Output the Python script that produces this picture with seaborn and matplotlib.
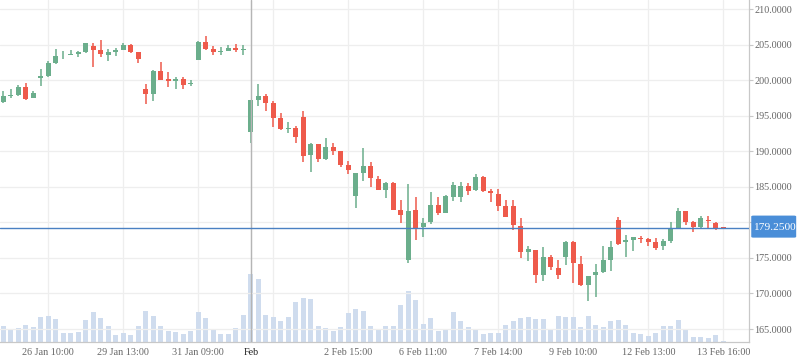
import numpy as np
import pandas as pd
import matplotlib
matplotlib.use("Agg")
import matplotlib.pyplot as plt
import matplotlib.patches as mpatches
import seaborn as sns

# --- data ----------------------------------------------------------------
opens = [196.86, 197.75, 197.93, 199.05, 197.51, 200.35, 200.63, 202.44, 203.47, 203.60,
         203.70, 203.93, 204.77, 204.21, 203.51, 203.98, 204.26, 204.91, 203.93, 198.77,
         198.12, 201.28, 200.16, 199.93, 200.16, 199.42, 202.86, 205.33, 204.35, 204.02,
         204.12, 204.49, 204.30, 192.77, 197.19, 197.75, 196.77, 194.66, 193.16, 193.25,
         194.80, 189.50, 191.00, 188.89, 190.58, 190.01, 188.05, 183.73, 186.97, 187.91,
         186.08, 184.58, 185.51, 181.72, 174.73, 181.72, 179.33, 180.03, 182.42, 181.34,
         183.59, 183.59, 185.09, 184.53, 186.36, 184.44, 183.97, 182.28, 182.23, 179.55,
         175.80, 176.17, 172.56, 175.19, 173.64, 175.09, 177.30, 174.20, 171.24, 172.56,
         173.08, 174.77, 180.37, 177.20, 177.48, 177.76, 177.71, 177.29, 176.64, 177.43,
         179.25, 181.64, 180.09, 179.39, 180.37, 179.95, 179.30]
highs = [198.49, 198.70, 199.33, 199.65, 198.49, 201.56, 202.67, 204.35, 204.12, 204.21,
         204.12, 205.19, 205.19, 205.60, 204.35, 204.53, 205.19, 205.05, 203.93, 199.47,
         201.42, 202.53, 201.14, 200.44, 200.44, 199.98, 205.47, 206.21, 204.77, 204.63,
         204.91, 205.05, 204.91, 197.25, 199.44, 198.03, 197.05, 195.36, 194.09, 193.53,
         195.64, 191.19, 191.00, 191.84, 191.14, 190.01, 188.61, 186.92, 190.44, 188.47,
         186.50, 185.66, 185.66, 183.12, 185.37, 183.55, 180.59, 184.25, 183.55, 183.83,
         185.66, 185.66, 185.51, 186.78, 186.50, 184.67, 184.67, 183.12, 183.08, 180.68,
         176.64, 176.17, 176.60, 175.47, 174.77, 177.44, 177.44, 175.33, 172.51, 174.20,
         176.74, 177.43, 180.79, 178.27, 177.99, 178.13, 177.85, 177.85, 177.71, 180.09,
         182.06, 181.64, 180.23, 180.93, 180.93, 180.09, 179.30]
lows = [196.72, 197.45, 197.70, 197.23, 197.42, 199.19, 200.49, 202.21, 203.00, 203.51,
        203.19, 203.84, 201.88, 203.28, 202.72, 203.42, 204.26, 203.84, 202.44, 196.58,
        197.00, 200.02, 199.09, 198.81, 198.81, 199.23, 202.86, 204.26, 203.56, 203.51,
        204.07, 204.02, 203.51, 191.22, 196.39, 195.69, 193.44, 192.97, 192.59, 191.19,
        188.51, 187.11, 188.51, 188.75, 189.50, 187.81, 186.83, 182.04, 185.84, 185.00,
        184.48, 183.45, 181.76, 179.93, 174.31, 177.54, 177.97, 179.75, 181.06, 181.25,
        183.03, 182.89, 183.83, 184.44, 184.30, 182.89, 181.62, 180.78, 178.90, 174.95,
        174.53, 171.48, 171.76, 173.26, 172.00, 173.97, 171.53, 171.10, 169.00, 169.46,
        172.93, 173.22, 176.87, 175.09, 176.03, 177.06, 176.64, 176.17, 176.17, 177.06,
        179.25, 179.67, 178.69, 179.25, 179.25, 178.97, 179.22]
closes = [197.79, 197.85, 199.05, 197.37, 198.26, 200.58, 202.40, 203.37, 203.56, 203.65,
          203.93, 205.19, 204.26, 203.70, 203.93, 204.26, 204.91, 203.98, 203.00, 197.98,
          201.28, 200.07, 199.93, 200.16, 199.37, 199.60, 205.37, 204.40, 203.98, 204.12,
          204.49, 204.21, 204.40, 197.21, 197.75, 196.81, 194.70, 193.11, 193.25, 192.03,
          189.36, 191.00, 188.94, 190.58, 190.06, 188.09, 187.39, 186.92, 187.91, 186.26,
          184.58, 185.51, 181.76, 181.06, 181.58, 179.09, 179.89, 182.42, 181.29, 183.69,
          185.23, 185.09, 184.44, 186.36, 184.44, 184.16, 182.33, 180.78, 179.60, 175.80,
          176.31, 172.56, 175.19, 173.69, 172.56, 177.30, 174.25, 171.24, 172.51, 173.08,
          174.77, 176.59, 177.01, 177.57, 177.99, 177.66, 177.20, 176.45, 177.43, 179.25,
          181.64, 180.09, 179.39, 180.65, 180.23, 179.25, 179.25]
volumes = [49, 41, 43, 52, 46, 76, 79, 70, 29, 29,
           32, 67, 91, 73, 49, 22, 28, 22, 49, 94,
           79, 49, 35, 31, 25, 34, 91, 73, 37, 25,
           25, 43, 82, 205, 190, 82, 76, 64, 76, 121,
           133, 130, 49, 43, 34, 46, 88, 100, 94, 49,
           37, 49, 49, 112, 154, 127, 55, 73, 34, 37,
           91, 64, 46, 40, 25, 28, 28, 52, 64, 73,
           76, 70, 70, 40, 79, 76, 76, 46, 79, 52,
           46, 64, 67, 52, 28, 25, 19, 28, 49, 49,
           67, 37, 16, 16, 13, 22, 4]

tick_pos = [6, 16, 26, 33, 36, 46, 56, 66, 76, 86, 96]
tick_labels = ["26 Jan 10:00", "29 Jan 13:00", "31 Jan 09:00", "Feb", "",
               "2 Feb 15:00", "6 Feb 11:00", "7 Feb 14:00", "9 Feb 10:00",
               "12 Feb 13:00", "13 Feb 16:00"]
price_ticks = [165, 170, 175, 180, 185, 190, 195, 200, 205, 210]
last_price = 179.25
cursor_idx = 33

GREEN = "#6bae8c"
RED = "#ee5a4b"
VOL = "#cfdcee"
GRID = "#eeeeee"
AXIS = "#c8c8c8"

# --- setup ---------------------------------------------------------------
sns.set_style("white")
plt.rcParams["font.family"] = ["Liberation Serif", "DejaVu Serif"]

df = pd.DataFrame({"open": opens, "high": highs, "low": lows,
                   "close": closes, "volume": volumes})
df["idx"] = np.arange(len(df))

fig = plt.figure(figsize=(7.98, 3.63), dpi=100)
ax_vol = fig.add_axes([0, 20.7 / 363, 749 / 798, 342.3 / 363])
ax = ax_vol.twinx()

# volume bars behind everything
sns.barplot(data=df, x="idx", y="volume", native_scale=True, width=0.67,
            color=VOL, saturation=1, errorbar=None, ax=ax_vol, zorder=2,
            linewidth=0, edgecolor="none")

# candles
up = df["close"] >= df["open"]
cols = np.where(up, GREEN, RED)
ax.vlines(df["idx"], df["low"], df["high"], colors=cols, lw=1.1, zorder=3)
body_bot = np.minimum(df["open"], df["close"])
body_h = np.maximum((df["close"] - df["open"]).abs(), 0.13)
ax.bar(df["idx"], body_h, bottom=body_bot, width=0.66, color=cols, lw=0, zorder=4)

# crosshair + last price line
ax.axvline(cursor_idx, color="#b5b5b5", lw=1.0, zorder=5)
ax.axhline(last_price, color="#4a80c2", lw=1.0, zorder=6)

# last price tag on the right axis
tag_tr = ax.get_yaxis_transform()
ax.add_patch(mpatches.FancyBboxPatch((1.003, 177.85), 0.060, 3.1,
                                     boxstyle="round,pad=0,rounding_size=0.003",
                                     mutation_aspect=40, transform=tag_tr,
                                     fc="#4a8ed8", ec="none", clip_on=False, zorder=7))
ax.text(1.0335, last_price, f"{last_price:.4f}", transform=tag_tr, ha="center",
        va="center", color="white", fontsize=8.2, clip_on=False, zorder=8)

# limits
ax_vol.set_xlim(-0.44, 99.43)
ax_vol.set_ylim(0, 1027)
ax.set_ylim(163.13, 211.27)

# y axis (price, right)
ax.set_yticks(price_ticks)
ax.set_yticklabels(["" if v == 180 else f"{v:.4f}" for v in price_ticks])
ax.tick_params(axis="y", length=3, width=0.8, color=AXIS, pad=1,
               labelsize=7.3, labelcolor="#666666")
ax.grid(axis="y", color=GRID, lw=0.9)
ax.set_axisbelow(True)

# x axis
ax_vol.set_yticks([])
ax_vol.set_xticks(tick_pos)
ax_vol.set_xticklabels(tick_labels)
ax_vol.tick_params(axis="x", length=0, pad=4, labelsize=7.3, labelcolor="#666666")
ax_vol.get_xticklabels()[3].set_color("#222222")
ax_vol.grid(axis="x", color=GRID, lw=0.9)
ax_vol.set_axisbelow(True)
ax_vol.set_xlabel("")
ax_vol.set_ylabel("")
ax.set_ylabel("")

for a in (ax, ax_vol):
    for s in ("top", "left"):
        a.spines[s].set_visible(False)
ax_vol.spines["right"].set_visible(False)
ax_vol.spines["bottom"].set_visible(False)
ax.spines["right"].set_color(AXIS)
ax.spines["bottom"].set_color(AXIS)
ax.spines["right"].set_linewidth(0.9)
ax.spines["bottom"].set_linewidth(0.9)

fig.savefig("out.png", dpi=100)
plt.close(fig)
